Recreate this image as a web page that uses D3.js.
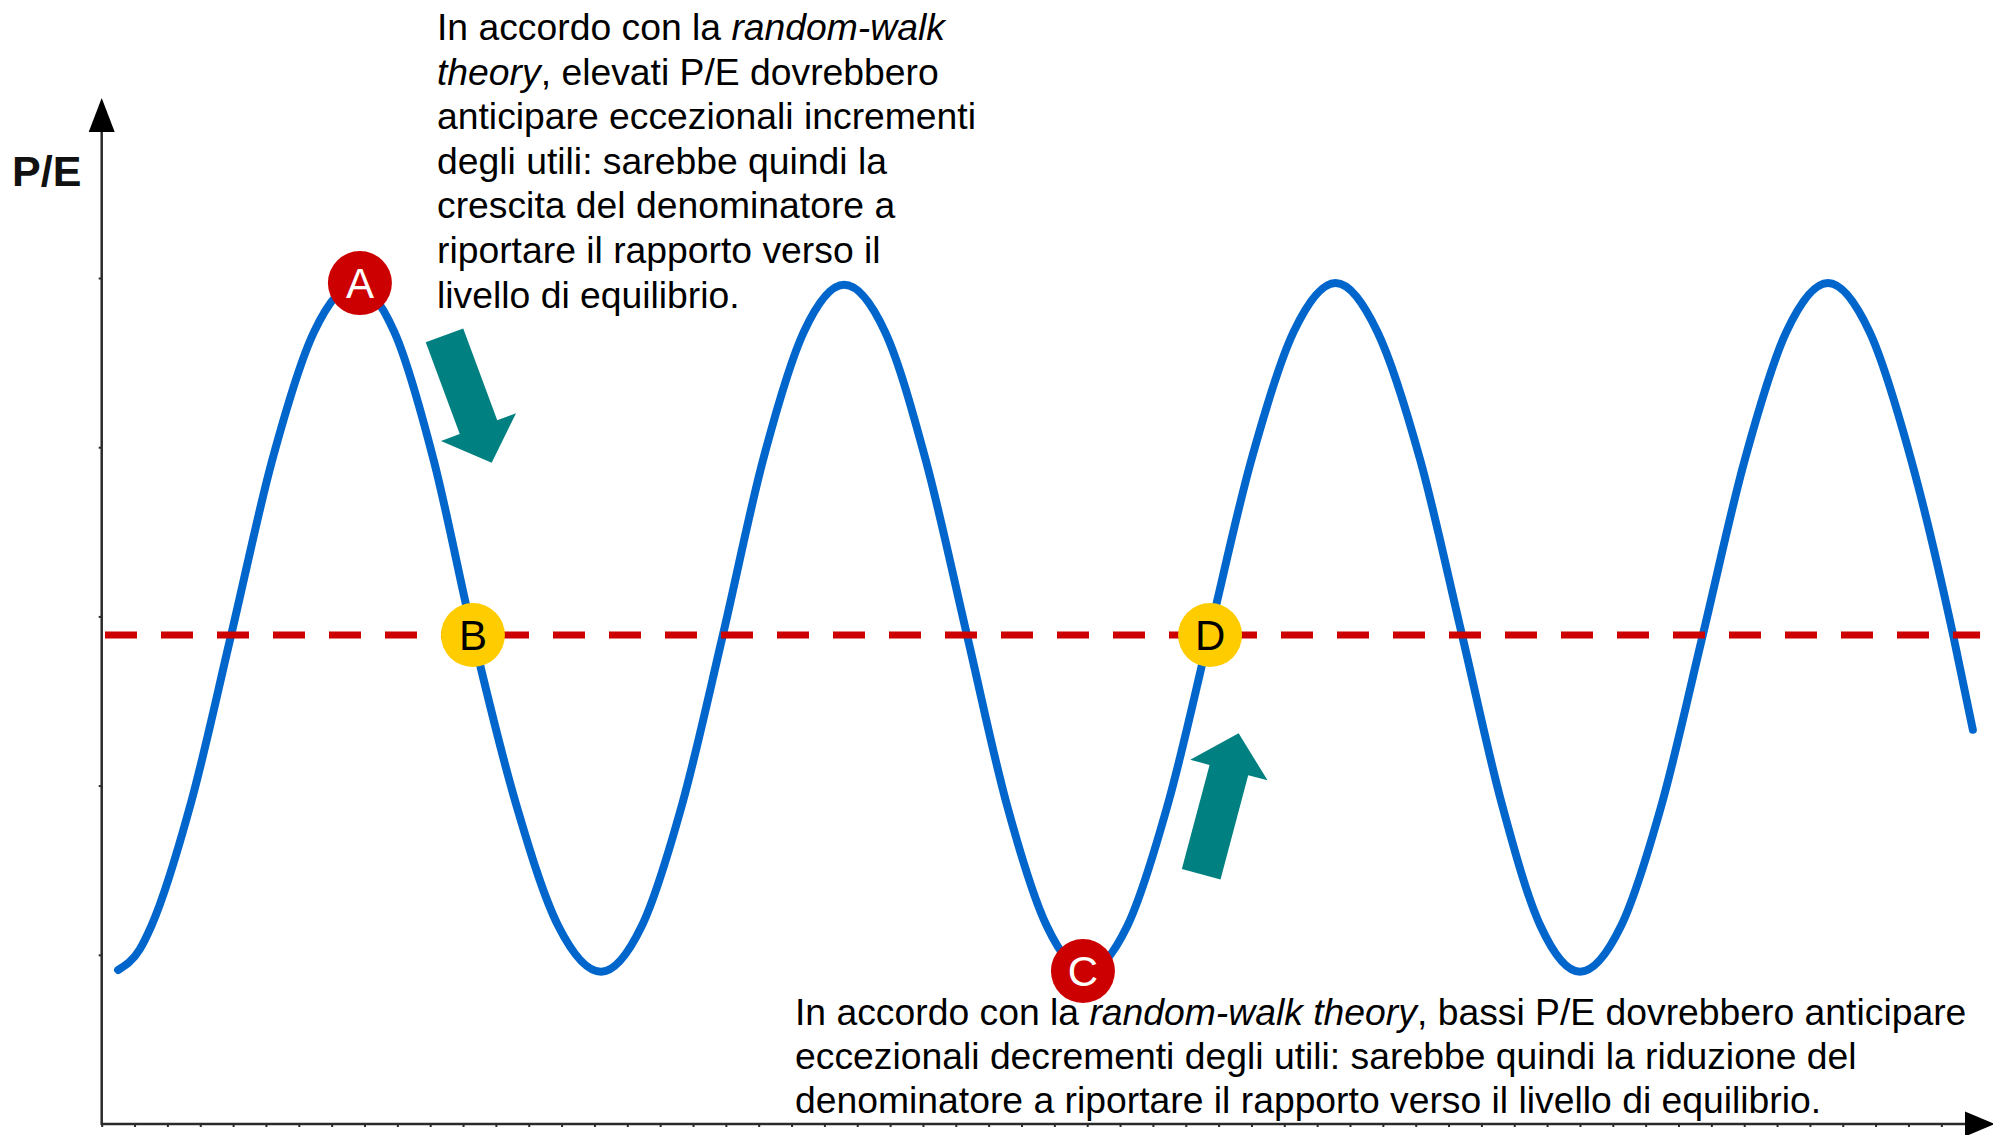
<!DOCTYPE html>
<html>
<head>
<meta charset="utf-8">
<script src="https://cdn.jsdelivr.net/npm/d3@7"></script>
<style>
  html, body { margin: 0; padding: 0; background: #fff; }
  svg { display: block; }
  text { font-family: "Liberation Sans", Arial, sans-serif; }
</style>
</head>
<body>
<script>
// ---------------- DATA ----------------
const timeSteps = [0.5, 1.15, 1.51, 2.72, 3.94, 5.20, 6.46, 7.72, 8.91, 10.11, 11.30,
  12.60, 13.90, 15.20, 16.44, 17.67, 18.91, 20.14, 21.37, 22.60, 23.85, 25.09, 26.34,
  27.55, 28.77, 29.98, 31.22, 32.47, 33.71, 34.99, 36.28, 37.56, 38.84, 40.13, 41.41,
  42.61, 43.80, 45.00, 46.25, 47.49, 48.74, 50.01, 51.28, 52.55, 53.82, 55.09, 56.36, 56.96];
const peValues = [0.91, 1.03, 1.17, 1.90, 2.89, 3.93, 4.68, 4.96, 4.68, 3.92, 2.89,
  1.90, 1.17, 0.90, 1.17, 1.89, 2.89, 3.93, 4.68, 4.96, 4.68, 3.92, 2.89,
  1.89, 1.17, 0.90, 1.17, 1.90, 2.89, 3.92, 4.68, 4.97, 4.68, 3.93, 2.89,
  1.90, 1.17, 0.90, 1.17, 1.89, 2.89, 3.92, 4.68, 4.97, 4.68, 3.92, 2.89, 2.33];

const equilibriumLevel = 2.89;
const equilibriumRange = [0.10, 57.18];

const yTickValues = [1, 2, 3, 4, 5];
const xTickValues = d3.range(0, 57);
const yAxisLabel = "P/E";

const markerLabels = ["A", "B", "C", "D"];
const markerX = [7.86, 11.30, 29.87, 33.74];
const markerY = [4.97, 2.89, 0.904, 2.89];
const markerKind = ["high", "eq", "high", "eq"];

const arrowTailX = [10.435, 33.47];
const arrowTailY = [4.661, 1.476];
const arrowTipX = [11.872, 34.61];
const arrowTipY = [3.908, 2.309];

const topNote = [
  [["In accordo con la ", false], ["random-walk", true]],
  [["theory", true], [", elevati P/E dovrebbero", false]],
  [["anticipare eccezionali incrementi", false]],
  [["degli utili: sarebbe quindi la", false]],
  [["crescita del denominatore a", false]],
  [["riportare il rapporto verso il", false]],
  [["livello di equilibrio.", false]]
];
const bottomNote = [
  [["In accordo con la ", false], ["random-walk theory", true], [", bassi P/E dovrebbero anticipare", false]],
  [["eccezionali decrementi degli utili: sarebbe quindi la riduzione del", false]],
  [["denominatore a riportare il rapporto verso il livello di equilibrio.", false]]
];

// ---------------- LAYOUT ----------------
const W = 1993, H = 1135;
const x0 = 101.7, xUnit = 32.85;
const yBase = 1124, yUnit = 169.2;

const x = d3.scaleLinear().domain([0, 56]).range([x0, x0 + 56 * xUnit]);
const y = d3.scaleLinear().domain([0, 5]).range([yBase, yBase - 5 * yUnit]);

const svg = d3.select("body").append("svg").attr("width", W).attr("height", H);

const axisColor = "#2a2a2a";

// x axis ticks
const gx = svg.append("g").attr("transform", `translate(0,${yBase})`)
  .call(d3.axisBottom(x).tickValues(xTickValues).tickSize(3).tickFormat(""));
gx.select(".domain").remove();
gx.selectAll(".tick line").attr("stroke", axisColor).attr("stroke-width", 2);

// y axis ticks
const gy = svg.append("g").attr("transform", `translate(${x0},0)`)
  .call(d3.axisLeft(y).tickValues(yTickValues).tickSize(3).tickFormat(""));
gy.select(".domain").remove();
gy.selectAll(".tick line").attr("stroke", axisColor).attr("stroke-width", 2);

// axis lines with arrowheads
svg.append("line").attr("x1", x0).attr("x2", 1966).attr("y1", yBase).attr("y2", yBase)
  .attr("stroke", axisColor).attr("stroke-width", 2.5);
svg.append("path").attr("d", `M1965,${yBase - 12.5} L1995,${yBase} L1965,${yBase + 12.5} Z`).attr("fill", "#000");
svg.append("line").attr("x1", x0).attr("x2", x0).attr("y1", yBase + 1).attr("y2", 131)
  .attr("stroke", axisColor).attr("stroke-width", 2.5);
svg.append("path").attr("d", `M${x0 - 13},132 L${x0},98 L${x0 + 13},132 Z`).attr("fill", "#000");

// axis label
svg.append("text").attr("x", 12).attr("y", 186).attr("font-size", 43).attr("font-weight", "bold")
  .attr("fill", "#111").text(yAxisLabel);

// curve
const pts = timeSteps.map((t, i) => [t, peValues[i]]);
const line = d3.line().x(d => x(d[0])).y(d => y(d[1])).curve(d3.curveMonotoneX);
svg.append("path").attr("d", line(pts)).attr("fill", "none")
  .attr("stroke", "#0066CC").attr("stroke-width", 8).attr("stroke-linejoin", "round").attr("stroke-linecap", "round");

// equilibrium dashed line
svg.append("line")
  .attr("x1", x(equilibriumRange[0])).attr("x2", x(equilibriumRange[1]))
  .attr("y1", y(equilibriumLevel)).attr("y2", y(equilibriumLevel))
  .attr("stroke", "#CC0000").attr("stroke-width", 7).attr("stroke-dasharray", "32,24");

// notes
function writeNote(lines, left, firstBaseline, lead) {
  lines.forEach((segs, i) => {
    const t = svg.append("text").attr("x", left).attr("y", firstBaseline + i * lead)
      .attr("font-size", 37.3).attr("fill", "#000");
    segs.forEach(s => {
      t.append("tspan").attr("font-style", s[1] ? "italic" : "normal").text(s[0]);
    });
  });
}
writeNote(topNote, 437, 40, 44.6);
writeNote(bottomNote, 795, 1025, 43.8);

// teal arrows
const shaftW = 40, headW = 80, headL = 38;
arrowTailX.forEach((tx, i) => {
  const ax = x(tx), ay = y(arrowTailY[i]);
  const bx = x(arrowTipX[i]), by = y(arrowTipY[i]);
  const len = Math.hypot(bx - ax, by - ay);
  const ux = (bx - ax) / len, uy = (by - ay) / len;
  const nx = -uy, ny = ux;
  const hx = bx - ux * headL, hy = by - uy * headL;
  const p = [
    [ax + nx * shaftW / 2, ay + ny * shaftW / 2],
    [hx + nx * shaftW / 2, hy + ny * shaftW / 2],
    [hx + nx * headW / 2, hy + ny * headW / 2],
    [bx, by],
    [hx - nx * headW / 2, hy - ny * headW / 2],
    [hx - nx * shaftW / 2, hy - ny * shaftW / 2],
    [ax - nx * shaftW / 2, ay - ny * shaftW / 2]
  ];
  svg.append("path").attr("d", "M" + p.map(q => q.join(",")).join("L") + "Z").attr("fill", "#008080");
});

// markers
markerLabels.forEach((lab, i) => {
  const cx = x(markerX[i]), cy = y(markerY[i]);
  const high = markerKind[i] === "high";
  svg.append("circle").attr("cx", cx).attr("cy", cy).attr("r", 32)
    .attr("fill", high ? "#CC0000" : "#FFCC00");
  svg.append("text").attr("x", cx).attr("y", cy + 15).attr("text-anchor", "middle")
    .attr("font-size", 42).attr("fill", high ? "#fff" : "#000").text(lab);
});
</script>
</body>
</html>
